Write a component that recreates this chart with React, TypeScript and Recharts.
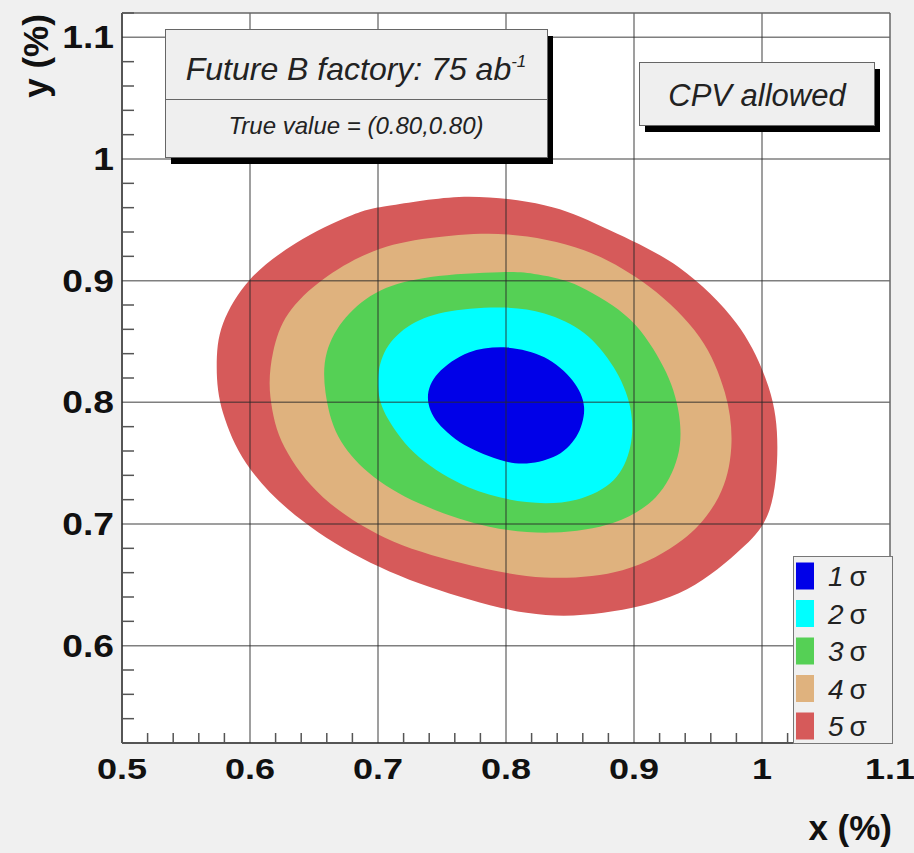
import React from "react";
import {
  ScatterChart,
  Scatter,
  XAxis,
  YAxis,
  CartesianGrid,
  ReferenceLine,
} from "recharts";

const W = 914;
const H = 853;
const FONT = '"Liberation Sans", Arial, Helvetica, sans-serif';
const BG = "#f0f0f0";
const AXIS = "#555555";

// axis ticks (every 0.02) and labelled major ticks
const X_TICKS = [
  0.5, 0.52, 0.54, 0.56, 0.58, 0.6, 0.62, 0.64, 0.66, 0.68, 0.7, 0.72, 0.74,
  0.76, 0.78, 0.8, 0.82, 0.84, 0.86, 0.88, 0.9, 0.92, 0.94, 0.96, 0.98, 1,
  1.02, 1.04, 1.06, 1.08, 1.1,
];
const X_MAJOR = [0.5, 0.6, 0.7, 0.8, 0.9, 1, 1.1];
const X_LABELS = ["0.5", "0.6", "0.7", "0.8", "0.9", "1", "1.1"];
const Y_TICKS = [
  0.52, 0.54, 0.56, 0.58, 0.6, 0.62, 0.64, 0.66, 0.68, 0.7, 0.72, 0.74, 0.76,
  0.78, 0.8, 0.82, 0.84, 0.86, 0.88, 0.9, 0.92, 0.94, 0.96, 0.98, 1, 1.02,
  1.04, 1.06, 1.08, 1.1, 1.12,
];
const Y_MAJOR = [0.6, 0.7, 0.8, 0.9, 1, 1.1];
const Y_LABELS = ["0.6", "0.7", "0.8", "0.9", "1", "1.1"];
const X_GRID = [0.6, 0.7, 0.8, 0.9, 1];
const Y_GRID = [0.6, 0.7, 0.8, 0.9, 1, 1.1];

const SIGMA_NAMES = ["1", "2", "3", "4", "5"];
const SIGMA_COLORS = ["#0000e8", "#00ffff", "#55d055", "#dfb27e", "#d65a5a"];

// contour boundaries (x, y)
const CONTOUR_1S = [
  [0.801, 0.845], [0.771, 0.841], [0.747, 0.824], [0.739, 0.804],
  [0.747, 0.783], [0.771, 0.763], [0.807, 0.75], [0.837, 0.755],
  [0.855, 0.772], [0.861, 0.796], [0.852, 0.818], [0.83, 0.837],
];
const CONTOUR_2S = [
  [0.795, 0.878], [0.752, 0.874], [0.723, 0.862], [0.705, 0.841],
  [0.7, 0.813], [0.708, 0.786], [0.732, 0.755], [0.771, 0.73],
  [0.816, 0.718], [0.855, 0.72], [0.884, 0.736], [0.897, 0.763],
  [0.897, 0.796], [0.884, 0.829], [0.861, 0.857], [0.83, 0.873],
];
const CONTOUR_3S = [
  [0.795, 0.907], [0.741, 0.903], [0.702, 0.892], [0.675, 0.87],
  [0.66, 0.841], [0.659, 0.808], [0.669, 0.772], [0.693, 0.742],
  [0.732, 0.717], [0.786, 0.698], [0.837, 0.693], [0.884, 0.701],
  [0.917, 0.722], [0.934, 0.755], [0.935, 0.791], [0.923, 0.829],
  [0.897, 0.868], [0.858, 0.895], [0.825, 0.905],
];
const CONTOUR_4S = [
  [0.801, 0.938], [0.741, 0.935], [0.696, 0.924], [0.657, 0.901],
  [0.63, 0.873], [0.618, 0.841], [0.616, 0.804], [0.627, 0.763],
  [0.657, 0.722], [0.705, 0.689], [0.765, 0.668], [0.83, 0.656],
  [0.891, 0.662], [0.938, 0.687], [0.966, 0.722], [0.976, 0.763],
  [0.971, 0.808], [0.951, 0.854], [0.912, 0.895], [0.861, 0.925],
];
const CONTOUR_5S = [
  [0.771, 0.969], [0.711, 0.962], [0.68, 0.954], [0.636, 0.931],
  [0.6, 0.901], [0.579, 0.865], [0.574, 0.829], [0.579, 0.791],
  [0.597, 0.75], [0.63, 0.712], [0.68, 0.676], [0.741, 0.648],
  [0.816, 0.627], [0.876, 0.627], [0.935, 0.643], [0.98, 0.676],
  [1.005, 0.709], [1.012, 0.763], [1.005, 0.813], [0.98, 0.865],
  [0.935, 0.911], [0.876, 0.944], [0.83, 0.962],
];

const CONTOURS = [CONTOUR_1S, CONTOUR_2S, CONTOUR_3S, CONTOUR_4S, CONTOUR_5S];

// closed Catmull-Rom curve so the filled region passes through the points
function closedSpline(context: any) {
  let pts: number[][] = [];
  return {
    areaStart() {},
    areaEnd() {},
    lineStart() {
      pts = [];
    },
    lineEnd() {
      const n = pts.length;
      if (!n) return;
      context.moveTo(pts[0][0], pts[0][1]);
      for (let i = 0; i < n; i++) {
        const p0 = pts[(i - 1 + n) % n];
        const p1 = pts[i];
        const p2 = pts[(i + 1) % n];
        const p3 = pts[(i + 2) % n];
        context.bezierCurveTo(
          p1[0] + (p2[0] - p0[0]) / 6,
          p1[1] + (p2[1] - p0[1]) / 6,
          p2[0] - (p3[0] - p1[0]) / 6,
          p2[1] - (p3[1] - p1[1]) / 6,
          p2[0],
          p2[1]
        );
      }
      context.closePath();
    },
    point(x: number, y: number) {
      pts.push([x, y]);
    },
  };
}

function labelFor(v: number, majors: number[], labels: string[]) {
  const i = majors.findIndex((m) => Math.abs(m - v) < 1e-6);
  return i >= 0 ? labels[i] : null;
}

function XTick(props: any) {
  const { x, y, payload } = props;
  const label = labelFor(payload.value, X_MAJOR, X_LABELS);
  return (
    <g>
      {label === null && (
        <line x1={x} x2={x} y1={y} y2={y - 10} stroke={AXIS} strokeWidth={1.5} />
      )}
      {label !== null && (
        <text
          transform={`translate(${x},${y + 36}) scale(1.2,1)`}
          textAnchor="middle"
          fontFamily={FONT}
          fontWeight="bold"
          fontSize={30}
          fill="#111"
        >
          {label}
        </text>
      )}
    </g>
  );
}

function YTick(props: any) {
  const { x, y, payload } = props;
  const label = labelFor(payload.value, Y_MAJOR, Y_LABELS);
  return (
    <g>
      {label === null && (
        <line x1={x} x2={x + 12} y1={y} y2={y} stroke={AXIS} strokeWidth={1.5} />
      )}
      {label !== null && (
        <text
          transform={`translate(${x - 8},${y}) scale(1.2,1)`}
          textAnchor="end"
          dy="0.36em"
          fontFamily={FONT}
          fontWeight="bold"
          fontSize={31}
          fill="#111"
        >
          {label}
        </text>
      )}
    </g>
  );
}

function Overlay() {
  const rowY = (i: number) => 576 + i * 37.5;
  return (
    <svg
      width={W}
      height={H}
      style={{ position: "absolute", left: 0, top: 0, pointerEvents: "none" }}
      fontFamily={FONT}
    >
      {/* title box */}
      <rect x={171} y={36} width={382} height={128} fill="#000" />
      <rect x={165.5} y={29.5} width={382} height={128} fill="#efefef" stroke="#666" />
      <line x1={165.5} x2={547.5} y1={99.5} y2={99.5} stroke="#666" />
      <text x={356} y={80} textAnchor="middle" fontSize={32} fontStyle="italic" fill="#222">
        Future B factory: 75 ab
        <tspan fontSize={17} dy={-13}>-1</tspan>
      </text>
      <text x={356} y={134} textAnchor="middle" fontSize={24} fontStyle="italic" fill="#222">
        True value = (0.80,0.80)
      </text>

      {/* CPV box */}
      <rect x={645} y={69} width={235} height={63} fill="#000" />
      <rect x={639.5} y={62.5} width={235} height={63} fill="#efefef" stroke="#666" />
      <text x={757} y={106} textAnchor="middle" fontSize={31} fontStyle="italic" fill="#222">
        CPV allowed
      </text>

      {/* legend */}
      <rect x={793.5} y={556.5} width={99} height={187} fill={BG} stroke="#777" />
      {SIGMA_NAMES.map((s, i) => (
        <g key={s}>
          <rect x={796} y={rowY(i) - 13.5} width={18} height={27} fill={SIGMA_COLORS[i]} />
          <text x={828} y={rowY(i) + 10} fontSize={28} fill="#222">
            <tspan fontStyle="italic">{s}</tspan>
            <tspan dx={6}>σ</tspan>
          </text>
        </g>
      ))}

      {/* axis titles */}
      <text
        transform="translate(48,56) rotate(-90)"
        textAnchor="middle"
        fontSize={35}
        fontWeight="bold"
        fill="#111"
      >
        y (%)
      </text>
      <text x={892} y={840} textAnchor="end" fontSize={35} fontWeight="bold" fill="#111">
        x (%)
      </text>
    </svg>
  );
}

export default function App() {
  const layers = [4, 3, 2, 1, 0];
  return (
    <div
      style={{
        position: "absolute",
        left: 0,
        top: 0,
        width: W,
        height: H,
        background: BG,
        overflow: "hidden",
      }}
    >
      <ScatterChart
        width={W}
        height={H}
        margin={{ top: 13, right: 24, bottom: 0, left: 0 }}
      >
        <CartesianGrid fill="#ffffff" horizontal={false} vertical={false} />
        <XAxis
          type="number"
          dataKey="x"
          domain={[0.5, 1.1]}
          ticks={X_TICKS}
          interval={0}
          tickSize={0}
          tickMargin={0}
          tickLine={false}
          tick={(p: any) => <XTick {...p} />}
          height={110}
          axisLine={{ stroke: AXIS, strokeWidth: 2 }}
          allowDataOverflow
        />
        <YAxis
          type="number"
          dataKey="y"
          domain={[0.52, 1.12]}
          ticks={Y_TICKS}
          interval={0}
          tickSize={0}
          tickMargin={0}
          tickLine={false}
          tick={(p: any) => <YTick {...p} />}
          width={122}
          axisLine={{ stroke: AXIS, strokeWidth: 2 }}
          allowDataOverflow
        />
        {layers.map((i) => (
          <Scatter
            key={`sigma-${i}`}
            data={CONTOURS[i].map(([x, y]) => ({ x, y }))}
            fill={SIGMA_COLORS[i]}
            line={{ fill: SIGMA_COLORS[i], stroke: "none" }}
            lineType="joint"
            lineJointType={closedSpline as any}
            shape={() => <g />}
            isAnimationActive={false}
          />
        ))}
        {X_GRID.map((v) => (
          <ReferenceLine
            key={`gx-${v}`}
            x={v}
            stroke="#2a2a2a"
            strokeOpacity={0.6}
            strokeWidth={1.5}
            zIndex={700}
          />
        ))}
        {Y_GRID.map((v) => (
          <ReferenceLine
            key={`gy-${v}`}
            y={v}
            stroke="#2a2a2a"
            strokeOpacity={0.6}
            strokeWidth={1.5}
            zIndex={700}
          />
        ))}
        <ReferenceLine y={1.12} stroke="#666" strokeWidth={1.5} zIndex={700} />
        <ReferenceLine x={1.1} stroke="#666" strokeWidth={1.5} zIndex={700} />
      </ScatterChart>
      <Overlay />
    </div>
  );
}
